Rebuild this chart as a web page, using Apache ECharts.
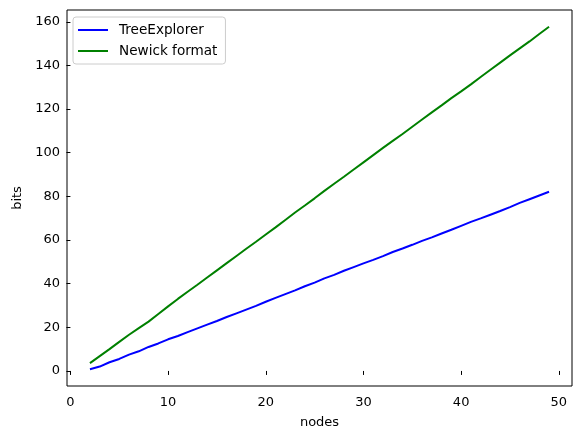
<!DOCTYPE html>
<html>
<head>
<meta charset="utf-8">
<script src="https://cdn.jsdelivr.net/npm/echarts@6/dist/echarts.min.js"></script>
<style>
  html, body { margin: 0; padding: 0; background: #fff; }
  #chart { width: 582px; height: 440px; }
</style>
</head>
<body>
<div id="chart"></div>
<script>
// tree sizes (number of nodes)
const nodes = [2, 3, 4, 5, 6, 7, 8, 9, 10, 11, 12, 13, 14, 15, 16, 17, 18, 19, 20, 21, 22, 23, 24, 25,
  26, 27, 28, 29, 30, 31, 32, 33, 34, 35, 36, 37, 38, 39, 40, 41, 42, 43, 44, 45, 46, 47, 48, 49]

// bits needed
const treeExplorer = [0.8, 2.0, 4.0, 5.5, 7.5, 9.0, 11.0, 12.6, 14.5, 16.0, 17.8, 19.5, 21.2, 22.9, 24.7, 26.4,
  28.1, 29.8, 31.7, 33.5, 35.2, 36.9, 38.8, 40.5, 42.4, 44.0, 45.9, 47.6, 49.3, 50.9, 52.6, 54.5,
  56.1, 57.8, 59.6, 61.2, 63.0, 64.7, 66.5, 68.3, 69.9, 71.6, 73.3, 75.1, 77.0, 78.7, 80.4, 82.1]
const newick = [3.6, 6.8, 10.0, 13.3, 16.6, 19.6, 22.6, 26.1, 29.6, 33.0, 36.3, 39.5, 42.8, 46.1, 49.4, 52.7,
  56.0, 59.2, 62.5, 65.8, 69.2, 72.6, 75.8, 79.1, 82.5, 85.8, 89.0, 92.3, 95.6, 98.9, 102.2, 105.4,
  108.6, 111.9, 115.2, 118.5, 121.7, 125.0, 128.1, 131.3, 134.7, 138.0, 141.3, 144.6, 147.8, 151.0, 154.4, 157.7]

const xTicks = [0, 10, 20, 30, 40, 50]
const yTicks = [0, 20, 40, 60, 80, 100, 120, 140, 160]

const font = 'DejaVu Sans'
const chart = echarts.init(document.getElementById('chart'))

function axisBase(ticks, margin) {
  return {
    type: 'value',
    axisLine: { show: false },
    axisTick: { show: true, length: 4, customValues: ticks, lineStyle: { color: '#000', width: 1 } },
    axisLabel: { customValues: ticks, color: '#000', fontFamily: font, fontSize: 13, margin: margin },
    splitLine: { show: false },
    nameLocation: 'middle',
    nameTextStyle: { color: '#000', fontFamily: font, fontSize: 13 },
  }
}

chart.setOption({
  animation: false,
  grid: { left: 67, right: 10, top: 10, bottom: 54, show: true, borderColor: '#000', borderWidth: 1, containLabel: false },
  legend: {
    orient: 'vertical',
    left: 73,
    top: 17,
    padding: [6, 8, 6, 5],
    itemGap: 7,
    itemWidth: 30,
    itemHeight: 2,
    icon: 'rect',
    borderColor: '#ccc',
    borderWidth: 1,
    borderRadius: 3,
    textStyle: { color: '#000', fontFamily: font, fontSize: 13.6, padding: [0, 0, 0, 6] },
    data: ['TreeExplorer', 'Newick format'],
  },
  xAxis: {
    ...axisBase(xTicks, 10),
    min: -0.35,
    max: 51.35,
    name: 'nodes',
    nameGap: 30,
  },
  yAxis: {
    ...axisBase(yTicks, 7),
    min: -6.9,
    max: 165.4,
    name: 'bits',
    nameGap: 43,
  },
  series: [
    {
      name: 'TreeExplorer',
      type: 'line',
      data: nodes.map((n, i) => [n, treeExplorer[i]]),
      showSymbol: false,
      symbol: 'none',
      color: '#0000ff',
      lineStyle: { width: 2 },
    },
    {
      name: 'Newick format',
      type: 'line',
      data: nodes.map((n, i) => [n, newick[i]]),
      showSymbol: false,
      symbol: 'none',
      color: '#008000',
      lineStyle: { width: 2 },
    },
  ],
})
</script>
</body>
</html>
